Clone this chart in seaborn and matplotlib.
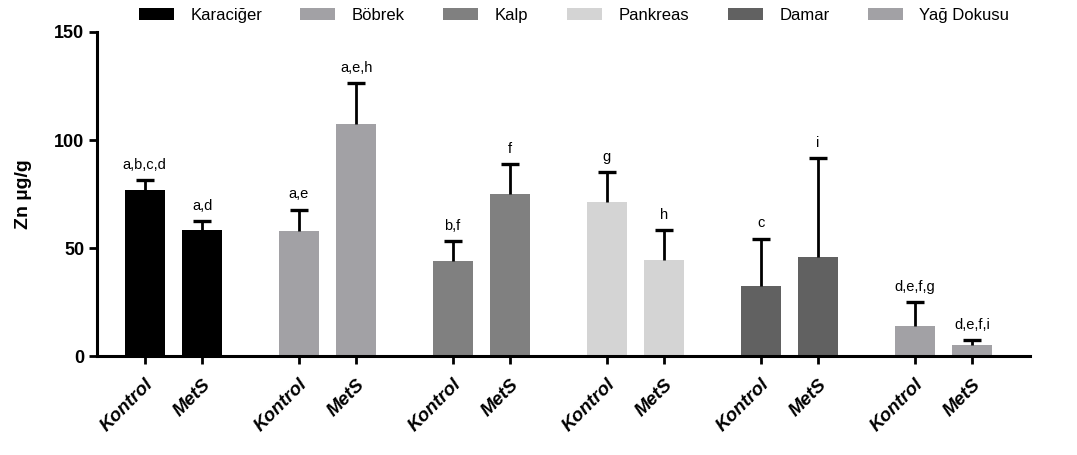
import numpy as np
import pandas as pd
import matplotlib
matplotlib.use("Agg")
import matplotlib.pyplot as plt
import seaborn as sns

# Zinc content per tissue (mean and SD) for the control and MetS groups
tissues = ["Karaciğer", "Böbrek", "Kalp", "Pankreas", "Damar", "Yağ Dokusu"]
groups = ["Kontrol", "MetS"]
kontrol_mean = [76.8, 58.2, 44.3, 71.3, 32.7, 14.1]
mets_mean = [58.5, 107.5, 75.0, 44.5, 46.0, 5.2]
kontrol_sd = [4.8, 9.7, 9.2, 14.1, 21.8, 11.2]
mets_sd = [4.1, 18.9, 13.8, 14.1, 45.5, 2.3]
kontrol_letters = ["a,b,c,d", "a,e", "b,f", "g", "c", "d,e,f,g"]
mets_letters = ["a,d", "a,e,h", "f", "h", "i", "d,e,f,i"]
tissue_colors = ["#000000", "#a2a1a5", "#808080", "#d4d4d4", "#616161", "#a2a1a5"]
y_ticks = [0, 50, 100, 150]

GROUP_STEP = 2.68  # distance between tissue groups, in bar slots

rows = []
for i, t in enumerate(tissues):
    rows.append(dict(tissue=t, group="Kontrol", pos=i * GROUP_STEP,
                     value=kontrol_mean[i], sd=kontrol_sd[i], letters=kontrol_letters[i]))
    rows.append(dict(tissue=t, group="MetS", pos=i * GROUP_STEP + 1.0,
                     value=mets_mean[i], sd=mets_sd[i], letters=mets_letters[i]))
df = pd.DataFrame(rows)

sns.set_style("ticks", {"axes.edgecolor": "black", "text.color": "black",
                        "axes.labelcolor": "black", "xtick.color": "black",
                        "ytick.color": "black"})
plt.rcParams["font.family"] = ["Liberation Sans", "DejaVu Sans"]

fig = plt.figure(figsize=(10.77, 4.55), dpi=100)
ax = fig.add_axes([0.090, 0.2165, 0.866, 0.7135])

palette = dict(zip(tissues, tissue_colors))
sns.barplot(data=df, x="pos", y="value", hue="tissue", hue_order=tissues,
            palette=palette, native_scale=True, dodge=False, width=0.7,
            errorbar=None, linewidth=0, saturation=1, ax=ax)

# upper-only SD whiskers
eb = ax.errorbar(df["pos"], df["value"], yerr=[np.zeros(len(df)), df["sd"]],
                 fmt="none", ecolor="black", elinewidth=2.0, capsize=6.8, capthick=2.4)
for cl in eb[1]:
    if np.allclose(cl.get_ydata(), df["value"].values):
        cl.set_visible(False)

# significance letters above each whisker
for _, r in df.iterrows():
    ax.annotate(r["letters"], (r["pos"], r["value"] + r["sd"]), xytext=(0, 8),
                textcoords="offset points", ha="center", va="baseline",
                fontsize=10.5, color="black")

ax.set_ylim(0, 150)
ax.set_yticks(y_ticks)
ax.set_xlim(-0.83, 15.4)
ax.set_xticks(df["pos"])
ax.set_xticklabels(df["group"], rotation=45, ha="right", rotation_mode="anchor",
                   fontweight="bold", fontstyle="italic", fontsize=13.5, color="black")
for lab in ax.get_yticklabels():
    lab.set_fontweight("bold")
    lab.set_fontsize(13)
    lab.set_color("black")
ax.set_xlabel("")
ax.set_ylabel("Zn µg/g", fontsize=14, fontweight="bold", labelpad=16, color="black")

sns.despine(ax=ax)
for s in ["left", "bottom"]:
    ax.spines[s].set_linewidth(2.2)
    ax.spines[s].set_color("black")
ax.tick_params(axis="both", length=6, width=2.0, direction="out", color="black")
ax.tick_params(axis="x", pad=8)
ax.tick_params(axis="y", pad=3)

sns.move_legend(ax, "center", bbox_to_anchor=(0.533, 0.967), bbox_transform=fig.transFigure,
                ncol=6, frameon=False, title=None, fontsize=12, labelcolor="black",
                handlelength=2.1, handleheight=0.75, handletextpad=1.0, columnspacing=2.3)

fig.savefig("out.png", dpi=100)
